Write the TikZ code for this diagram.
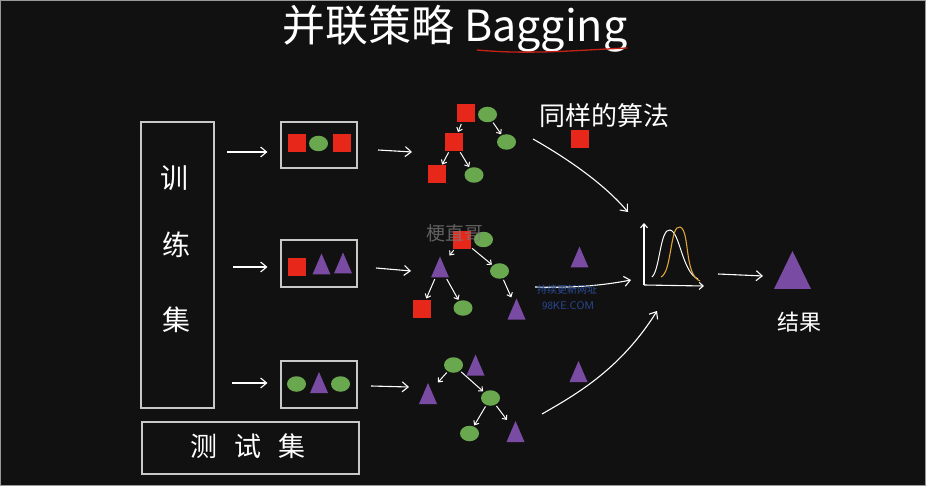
\documentclass[tikz,border=0pt]{standalone}
\usepackage{fontspec}
\newfontfamily\cjk{Noto Sans CJK SC}
\usetikzlibrary{arrows.meta,shapes.geometric}
\definecolor{bg}{HTML}{111111}
\definecolor{myred}{HTML}{E8271B}
\definecolor{mygreen}{HTML}{6AA84F}
\definecolor{mypurple}{HTML}{7A4BA3}
\definecolor{boxgray}{HTML}{C8C8C8}
\definecolor{myorange}{HTML}{E0A33A}
\definecolor{wmblue}{HTML}{2B4C9A}
\definecolor{wmgray}{HTML}{7A7A7A}
\tikzset{
  setbox/.style={draw=boxgray, line width=1.1pt, inner sep=0},
  sq/.style={fill=myred, minimum size=18pt, inner sep=0, outer sep=0},
  ci/.style={ellipse, fill=mygreen, minimum width=19pt, minimum height=15.5pt, inner sep=0},
  tri/.style={minimum width=18pt, minimum height=21pt, inner sep=0,
    path picture={\fill[mypurple] (path picture bounding box.south west) -- (path picture bounding box.south east) -- (path picture bounding box.north) -- cycle;}},
  bigtri/.style={minimum width=37pt, minimum height=38pt, inner sep=0,
    path picture={\fill[mypurple] (path picture bounding box.south west) -- (path picture bounding box.south east) -- (path picture bounding box.north) -- cycle;}},
  arr/.style={draw=white, line width=1.1pt, -{Straight Barb[length=6pt,width=10pt]}},
  tarr/.style={draw=white, line width=1pt, -{Straight Barb[length=3.5pt,width=6pt]}, shorten <=1.5pt, shorten >=1pt},
  hand/.style={text=white, font=\cjk},
}
\begin{document}
\begin{tikzpicture}[x=1pt,y=-1pt]
\fill[bg] (0,0) rectangle (926,486);
\useasboundingbox (0,0) rectangle (926,486);
\draw[gray!80, line width=1pt] (0.5,0.5) rectangle (925.5,485.5);

% title
\node[text=white, font=\cjk\fontsize{43}{46}\selectfont, anchor=center] (title) at (455,29) {并联策略 Bagging};
\draw[myred!85!black, line width=1.3pt, line cap=round] (477,50) .. controls (530,55) and (580,50) .. (627,48);

% training set box
\node[setbox, minimum width=73pt, minimum height=286pt] (train) at (177.5,265) {};
\node[hand, font=\cjk\fontsize{28}{30}\selectfont] (t1) at (174,178) {训};
\node[hand, font=\cjk\fontsize{28}{30}\selectfont] (t2) at (176,245) {练};
\node[hand, font=\cjk\fontsize{28}{30}\selectfont] (t3) at (176,320) {集};

% test set box
\node[setbox, minimum width=217pt, minimum height=52pt] (test) at (250.5,448) {};
\node[hand, font=\cjk\fontsize{27}{29}\selectfont] (testlbl) at (248,446) {测\hspace{17pt}试\hspace{17pt}集};

% sample boxes
\node[setbox, minimum width=76pt, minimum height=46pt] (s1) at (319,145) {};
\node[setbox, minimum width=76pt, minimum height=47pt] (s2) at (319,263.5) {};
\node[setbox, minimum width=76pt, minimum height=47pt] (s3) at (319,384.5) {};

\node[sq] (s1a) at (297,143.5) {};
\node[ci] (s1b) at (318.5,143.5) {};
\node[sq] (s1c) at (342,143.5) {};

\node[sq] (s2a) at (297,267) {};
\node[tri] (s2b) at (321.5,264) {};
\node[tri] (s2c) at (343,263) {};

\node[ci] (s3a) at (296.5,384) {};
\node[tri] (s3b) at (319,382.5) {};
\node[ci] (s3c) at (340.5,384) {};

% arrows train -> samples
\coordinate (a1s) at (227,152);
\coordinate (a2s) at (233,267);
\coordinate (a3s) at (232,383);
\draw[arr] (a1s) -- ([xshift=-13pt]a1s -| s1.west);
\draw[arr] (a2s) -- ([xshift=-13pt]a2s -| s2.west);
\draw[arr] (a3s) -- ([xshift=-13pt]a3s -| s3.west);

% arrows samples -> trees
\coordinate (b1s) at (378,150);
\coordinate (b2s) at (376,268);
\coordinate (b3s) at (371,386);
\coordinate (b1e) at (412,152);
\coordinate (b2e) at (411,271);
\coordinate (b3e) at (409,387);
\draw[arr] (b1s) -- (b1e);
\draw[arr] (b2s) -- (b2e);
\draw[arr] (b3s) -- (b3e);

% tree 1
\node[sq] (r1a) at (465.5,113.5) {};
\node[ci] (r1b) at (487.5,114.5) {};
\node[sq] (r1c) at (454,142) {};
\node[ci] (r1d) at (506.5,142) {};
\node[sq] (r1e) at (437,174.5) {};
\node[ci] (r1f) at (474,175) {};
\draw[tarr] (r1a) -- (r1c);
\draw[tarr] (r1b) -- (r1d);
\draw[tarr] (r1c) -- (r1e);
\draw[tarr] (r1c) -- (r1f);

% tree 2
\node[sq] (r2a) at (462,240) {};
\node[ci] (r2b) at (483.5,239.5) {};
\node[tri] (r2c) at (440,267) {};
\node[ci] (r2d) at (499.5,271) {};
\node[sq] (r2e) at (422,308.5) {};
\node[ci] (r2f) at (463,308) {};
\node[tri] (r2g) at (516.5,309) {};
\draw[tarr] (r2a) -- (r2c);
\draw[tarr] (r2a) -- (r2d);
\draw[tarr] (r2c) -- (r2e);
\draw[tarr] (r2c) -- (r2f);
\draw[tarr] (r2d) -- (r2g);

% tree 3
\node[ci] (r3a) at (453.5,365) {};
\node[tri] (r3b) at (475.5,365) {};
\node[tri] (r3c) at (428,393.5) {};
\node[ci] (r3d) at (490.5,398) {};
\node[ci] (r3e) at (469.5,433.5) {};
\node[tri] (r3f) at (515.5,431.5) {};
\draw[tarr] (r3a) -- (r3c);
\draw[tarr] (r3a) -- (r3d);
\draw[tarr] (r3d) -- (r3e);
\draw[tarr] (r3d) -- (r3f);

% same algorithm label
\node[hand, font=\cjk\fontsize{26}{28}\selectfont] (same) at (604,116) {同样的算法};
\node[sq] (p1) at (579.5,139) {};
\node[tri] (p2) at (579.5,257) {};
\node[tri] (p3) at (578.5,371.5) {};

% chart
\node[minimum width=64pt, minimum height=66pt, inner sep=0] (chart) at (672,255) {};
\coordinate (o) at (644,285);
\draw[white, line width=1.1pt, -{Straight Barb[length=4pt,width=7pt]}] (o) -- (644,223);
\draw[white, line width=1.1pt, -{Straight Barb[length=4pt,width=7pt]}] (o) -- (704,286);
\draw[white, line width=1pt] (652,277) .. controls (660,270) and (660,228) .. (670,230) .. controls (680,232) and (682,272) .. (698,279);
\draw[myorange, line width=1.1pt] (661,277) .. controls (672,272) and (670,224) .. (680,227) .. controls (690,230) and (684,275) .. (700,281);

% big arrows into chart
\coordinate (c1s) at (533,139);
\coordinate (c1e) at (628,212);
\coordinate (c2s) at (535,287);
\coordinate (c2e) at (631,280);
\coordinate (c3s) at (542,414);
\coordinate (c3e) at (657,311);
\draw[arr] (c1s) .. controls (570,160) and (605,185) .. (c1e);
\draw[arr] (c2s) .. controls (570,288) and (600,286) .. (c2e);
\draw[arr] (c3s) .. controls (575,395) and (620,370) .. (c3e);

% result
\coordinate (d1s) at (718,274);
\coordinate (d1e) at (763,276);
\draw[arr] (d1s) -- (d1e);
\node[bigtri] (res) at (792.5,270) {};
\node[hand, font=\cjk\fontsize{22}{24}\selectfont] (reslbl) at (799,322) {结果};

% watermarks
\node[text=wmgray, opacity=0.75, font=\cjk\fontsize{19}{21}\selectfont] (wm1) at (455,233) {梗直哥};
\node[text=wmblue, font=\cjk\fontsize{10}{11}\selectfont] (wm2) at (567,290) {持续更新网址};
\node[text=wmblue, font=\sffamily\fontsize{11}{12}\selectfont] (wm3) at (568,306) {98KE.COM};
\end{tikzpicture}
\end{document}
